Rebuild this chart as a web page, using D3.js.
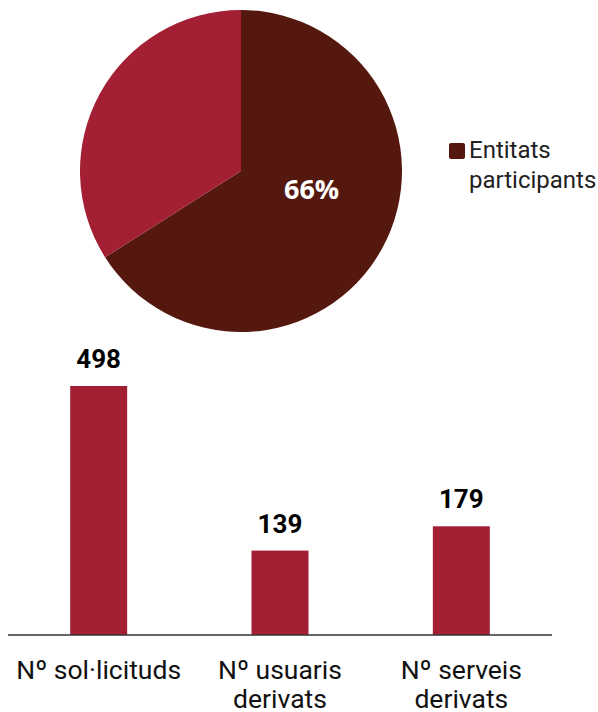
<!DOCTYPE html>
<html>
<head>
<meta charset="utf-8">
<script src="https://cdn.jsdelivr.net/npm/d3@7"></script>
<style>
  body { margin: 0; background: #fff; }
  svg { display: block; font-family: Roboto, "Noto Sans", sans-serif; }
</style>
</head>
<body>
<div id="viz"></div>
<script>
// pie data (share of entities)
const pieLabels = ["Entitats participants", "Resta"];
const pieValues = [66, 34];
const pieColors = ["#55180f", "#a31f34"];

// bar data
const barCategories = [["Nº sol·licituds"], ["Nº usuaris", "derivats"], ["Nº serveis", "derivats"]];
const barValues = [498, 139, 179];

const W = 598, H = 712;
const svg = d3.select("#viz").append("svg")
  .attr("width", W)
  .attr("height", H);

// ---- PIE ----
const cx = 241, cy = 171, r = 161;
const pie = d3.pie().sort(null).value(d => d);
const arc = d3.arc().innerRadius(0).outerRadius(r);
const pieG = svg.append("g").attr("transform", `translate(${cx},${cy})`);

const slices = pie(pieValues);
pieG.selectAll("path")
  .data(slices)
  .enter()
  .append("path")
  .attr("d", arc)
  .attr("fill", (d, i) => pieColors[i]);

// only the big slice gets a percent label
pieG.append("text")
  .attr("x", arc.centroid(slices[0])[0])
  .attr("y", arc.centroid(slices[0])[1] - 11)
  .attr("text-anchor", "middle")
  .attr("font-family", "'Open Sans', sans-serif")
  .attr("font-size", 27)
  .attr("font-weight", "bold")
  .attr("fill", "#fff")
  .text(pieValues[0] + "%");

// legend (first slice only)
const leg = svg.append("g").attr("transform", "translate(449,143)");
leg.append("rect")
  .attr("width", 16).attr("height", 16).attr("rx", 2)
  .attr("fill", pieColors[0]);
leg.append("text")
  .attr("y", 15)
  .attr("font-size", 24)
  .attr("fill", "#222")
  .selectAll("tspan")
  .data(["Entitats", "participants"])
  .enter()
  .append("tspan")
  .attr("x", 20)
  .attr("dy", (d, i) => i ? 30 : 0)
  .text(d => d);

// ---- BARS ----
const x = d3.scaleBand()
  .domain(d3.range(barValues.length))
  .range([8, 552])
  .paddingInner(0.6857)
  .paddingOuter(0.3429);

// the plot area tops out around 410, the first bar is clipped there
const y = d3.scaleLinear()
  .domain([0, 410])
  .range([635, 386])
  .clamp(true);

svg.selectAll("rect.bar")
  .data(barValues)
  .enter()
  .append("rect")
  .attr("class", "bar")
  .attr("x", (d, i) => x(i))
  .attr("width", x.bandwidth())
  .attr("y", d => y(d))
  .attr("height", d => y(0) - y(d))
  .attr("fill", "#a31f34");

svg.selectAll("text.val")
  .data(barValues)
  .enter()
  .append("text")
  .attr("class", "val")
  .attr("x", (d, i) => x(i) + x.bandwidth() / 2)
  .attr("y", d => y(d) - 18)
  .attr("text-anchor", "middle")
  .attr("font-size", 26)
  .attr("font-weight", "bold")
  .attr("fill", "#000")
  .text(d => d);

// baseline
svg.append("line")
  .attr("x1", 8).attr("x2", 552)
  .attr("y1", y(0)).attr("y2", y(0))
  .attr("stroke", "#333")
  .attr("stroke-width", 1.5);

// category labels
svg.selectAll("text.cat")
  .data(barCategories)
  .enter()
  .append("text")
  .attr("class", "cat")
  .attr("text-anchor", "middle")
  .attr("font-size", 26.5)
  .attr("fill", "#111")
  .each(function(d, i) {
    const cxBar = x(i) + x.bandwidth() / 2;
    d3.select(this).selectAll("tspan")
      .data(d)
      .enter()
      .append("tspan")
      .attr("x", cxBar)
      .attr("y", (t, j) => 679 + j * 29)
      .text(t => t);
  });
</script>
</body>
</html>
